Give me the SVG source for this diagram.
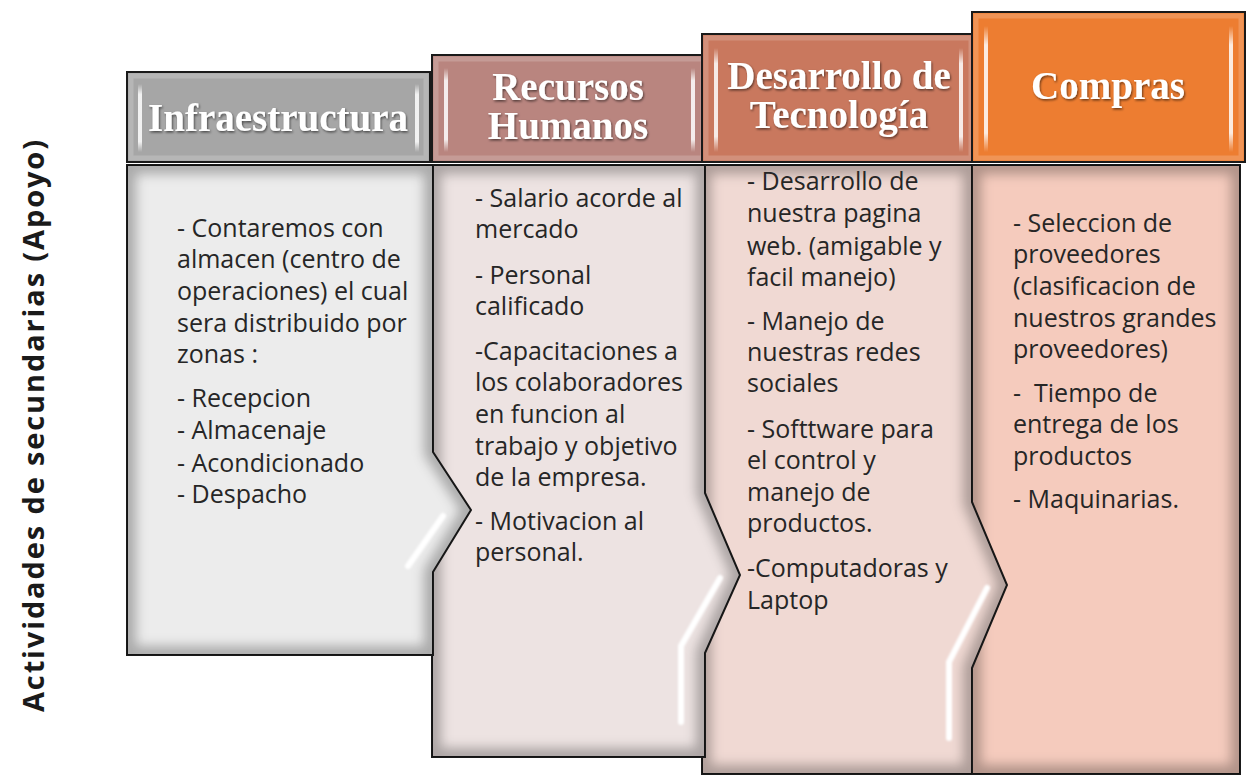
<svg xmlns="http://www.w3.org/2000/svg" width="1248" height="777" viewBox="0 0 1248 777">
<defs>
<style>
.hd{font-family:"Liberation Serif","Times New Roman",serif;font-weight:bold;font-size:39px;fill:#ffffff;text-anchor:middle;filter:url(#tsh)}
.bt{font-family:"Open Sans","Liberation Sans",sans-serif;font-size:25px;fill:#262626}
.lbl{font-family:"Open Sans","Liberation Sans",sans-serif;font-weight:bold;font-size:29px;fill:#1a1a1a}
.hbox{stroke:#1a1a1a;stroke-width:2}
.hin{fill:none;stroke:#ffffff;stroke-opacity:0.18;stroke-width:5}
.bar{fill:url(#vbar)}
.body{stroke:#1a1a1a;stroke-width:2}
.inner{fill:none;stroke:#000;stroke-opacity:0.28;stroke-width:18;filter:url(#blur6)}
.hl{fill:none;stroke:#ffffff;stroke-width:6;stroke-linecap:round;filter:url(#blur1)}
</style>
<filter id="tsh" x="-10%" y="-20%" width="120%" height="150%">
<feDropShadow dx="1" dy="1.5" stdDeviation="1" flood-color="#000" flood-opacity="0.55"/>
</filter>
<filter id="blur6" x="-10%" y="-10%" width="120%" height="120%"><feGaussianBlur stdDeviation="6"/></filter>
<filter id="blur1" x="-20%" y="-20%" width="140%" height="140%"><feGaussianBlur stdDeviation="1.2"/></filter>
<linearGradient id="vbar" x1="0" y1="0" x2="0" y2="1">
<stop offset="0" stop-color="#fff" stop-opacity="0"/>
<stop offset="0.15" stop-color="#fff" stop-opacity="0.85"/>
<stop offset="0.85" stop-color="#fff" stop-opacity="0.85"/>
<stop offset="1" stop-color="#fff" stop-opacity="0"/>
</linearGradient>
<clipPath id="c1"><path d="M127,165 H433 V452 L471,510 L433,572 V655 H127 Z"/></clipPath>
<clipPath id="c2"><path d="M432,165 H705 V493 L740,575 L705,653 V757 H432 Z"/></clipPath>
<clipPath id="c3"><path d="M702,165 H972 V502 L1007,585 L972,668 V774 H702 Z"/></clipPath>
<clipPath id="c4"><path d="M972,165 H1240 V774 H972 Z"/></clipPath>
</defs>
<rect width="1248" height="777" fill="#ffffff"/>

<text class="lbl" transform="translate(44,426) rotate(-90)" text-anchor="middle" textLength="572" lengthAdjust="spacing">Actividades de secundarias (Apoyo)</text>

<g id="body-compras">
<path class="body" fill="#f5cbbd" d="M972,165 H1240 V774 H972 Z"/>
<g clip-path="url(#c4)"><path class="inner" d="M972,165 H1240 V774 H972 Z"/></g>
<text class="bt" x="1013" y="232">- Seleccion de</text>
<text class="bt" x="1013" y="263">proveedores</text>
<text class="bt" x="1013" y="295">(clasificacion de</text>
<text class="bt" x="1013" y="327">nuestros grandes</text>
<text class="bt" x="1013" y="358">proveedores)</text>
<text class="bt" x="1013" y="402" xml:space="preserve">-  Tiempo de</text>
<text class="bt" x="1013" y="433">entrega de los</text>
<text class="bt" x="1013" y="465">productos</text>
<text class="bt" x="1013" y="508">- Maquinarias.</text>
</g>

<g id="body-tecnologia">
<path class="body" fill="#f0d9d3" d="M702,165 H972 V502 L1007,585 L972,668 V774 H702 Z"/>
<g clip-path="url(#c3)"><path class="inner" d="M702,165 H972 V502 L1007,585 L972,668 V774 H702 Z"/></g>
<polyline class="hl" points="987,588 949,662 949,738"/>
<text class="bt" x="747" y="190">- Desarrollo de</text>
<text class="bt" x="747" y="222">nuestra pagina</text>
<text class="bt" x="747" y="255">web. (amigable y</text>
<text class="bt" x="747" y="286">facil manejo)</text>
<text class="bt" x="747" y="330">- Manejo de</text>
<text class="bt" x="747" y="361">nuestras redes</text>
<text class="bt" x="747" y="392">sociales</text>
<text class="bt" x="747" y="438">- Softtware para</text>
<text class="bt" x="747" y="469">el control y</text>
<text class="bt" x="747" y="501">manejo de</text>
<text class="bt" x="747" y="532">productos.</text>
<text class="bt" x="747" y="577">-Computadoras y</text>
<text class="bt" x="747" y="609">Laptop</text>
</g>

<g id="body-rrhh">
<path class="body" fill="#ede3e2" d="M432,165 H705 V493 L740,575 L705,653 V757 H432 Z"/>
<g clip-path="url(#c2)"><path class="inner" d="M432,165 H705 V493 L740,575 L705,653 V757 H432 Z"/></g>
<polyline class="hl" points="720,578 681,646 681,722"/>
<text class="bt" x="475" y="207">- Salario acorde al</text>
<text class="bt" x="475" y="238">mercado</text>
<text class="bt" x="475" y="284">- Personal</text>
<text class="bt" x="475" y="315">calificado</text>
<text class="bt" x="475" y="360">-Capacitaciones a</text>
<text class="bt" x="475" y="391">los colaboradores</text>
<text class="bt" x="475" y="423">en funcion al</text>
<text class="bt" x="475" y="455">trabajo y objetivo</text>
<text class="bt" x="475" y="486">de la empresa.</text>
<text class="bt" x="475" y="530">- Motivacion al</text>
<text class="bt" x="475" y="561">personal.</text>
</g>

<g id="body-infra">
<path class="body" fill="#ececec" d="M127,165 H433 V452 L471,510 L433,572 V655 H127 Z"/>
<g clip-path="url(#c1)"><path class="inner" d="M127,165 H433 V452 L471,510 L433,572 V655 H127 Z"/></g>
<polyline class="hl" points="443,516 408,566"/>
<text class="bt" x="177" y="237">- Contaremos con</text>
<text class="bt" x="177" y="268">almacen (centro de</text>
<text class="bt" x="177" y="300">operaciones) el cual</text>
<text class="bt" x="177" y="332">sera distribuido por</text>
<text class="bt" x="177" y="363">zonas :</text>
<text class="bt" x="177" y="407">- Recepcion</text>
<text class="bt" x="177" y="439">- Almacenaje</text>
<text class="bt" x="177" y="472">- Acondicionado</text>
<text class="bt" x="177" y="503">- Despacho</text>
</g>

<g id="head-infra">
<rect class="hbox" x="127" y="72" width="303" height="90" fill="#a6a6a6"/>
<rect class="hin" x="131" y="76" width="295" height="82"/>
<rect class="bar" x="138" y="84" width="4" height="68"/>
<rect class="bar" x="415" y="84" width="4" height="68"/>
<text class="hd" x="278" y="131">Infraestructura</text>
</g>

<g id="head-rrhh">
<rect class="hbox" x="432" y="55" width="275" height="107" fill="#b9857f"/>
<rect class="hin" x="436" y="59" width="267" height="99"/>
<rect class="bar" x="444" y="68" width="4" height="84"/>
<rect class="bar" x="691" y="68" width="4" height="84"/>
<text class="hd" x="568" y="100">Recursos</text>
<text class="hd" x="568" y="139">Humanos</text>
</g>

<g id="head-tecnologia">
<rect class="hbox" x="702" y="34" width="273" height="128" fill="#c9785e"/>
<rect class="hin" x="706" y="38" width="265" height="120"/>
<rect class="bar" x="714" y="48" width="4" height="104"/>
<rect class="bar" x="959" y="48" width="4" height="104"/>
<text class="hd" x="839" y="89">Desarrollo de</text>
<text class="hd" x="839" y="128">Tecnología</text>
</g>

<g id="head-compras">
<rect class="hbox" x="972" y="12" width="273" height="150" fill="#ed7d31"/>
<rect class="hin" x="976" y="16" width="265" height="142"/>
<rect class="bar" x="984" y="26" width="4" height="126"/>
<rect class="bar" x="1229" y="26" width="4" height="126"/>
<text class="hd" x="1108" y="99">Compras</text>
</g>

<g id="connectors"></g>
</svg>
